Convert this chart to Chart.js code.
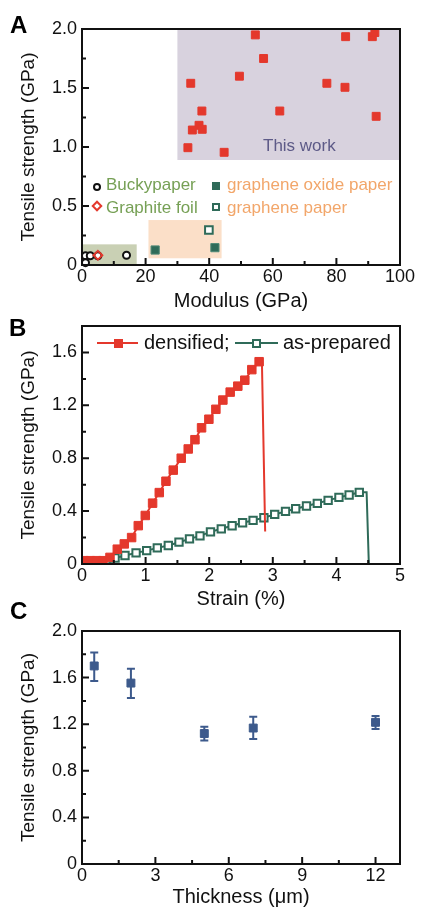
<!DOCTYPE html>
<html>
<head>
<meta charset="utf-8">
<script src="https://cdn.jsdelivr.net/npm/chart.js@4.4.1/dist/chart.umd.min.js"></script>
<style>
html,body{margin:0;padding:0;background:#fff;}
#wrap{position:relative;width:421px;height:907px;overflow:hidden;font-family:"Liberation Sans",Arial,sans-serif;}
canvas{position:absolute;left:0;}
.t{position:absolute;line-height:1;white-space:nowrap;z-index:5;}
.panel{font-weight:bold;font-size:24px;color:#000;}
.mk{position:absolute;box-sizing:border-box;z-index:5;}
</style>
</head>
<body>
<div id="wrap">
  <canvas id="cA" width="421" height="311" style="top:0px"></canvas>
  <canvas id="cB" width="421" height="298" style="top:311px"></canvas>
  <canvas id="cC" width="421" height="298" style="top:609px"></canvas>

  <div class="t panel" style="left:10px;top:13px;">A</div>
  <div class="t panel" style="left:9px;top:316px;">B</div>
  <div class="t panel" style="left:10px;top:599px;">C</div>

  <!-- Panel A legend -->
  <div class="mk" style="left:93px;top:183px;width:8px;height:8px;border:2px solid #111;border-radius:50%;background:#fff;"></div>
  <div class="t" style="left:106px;top:176px;font-size:17px;color:#76a055;">Buckypaper</div>
  <div class="mk" style="left:93px;top:202px;width:8px;height:8px;border:2px solid #e4382c;background:#fff;transform:rotate(45deg);"></div>
  <div class="t" style="left:106px;top:199px;font-size:17px;color:#76a055;">Graphite foil</div>
  <div class="mk" style="left:212px;top:182px;width:8px;height:8px;background:#2f6b59;"></div>
  <div class="t" style="left:227px;top:176px;font-size:17px;color:#f2a66a;">graphene oxide paper</div>
  <div class="mk" style="left:212px;top:203px;width:8px;height:8px;border:2px solid #2f6b59;background:#fff;"></div>
  <div class="t" style="left:227px;top:199px;font-size:17px;color:#f2a66a;">graphene paper</div>
  <div class="t" style="left:263px;top:137px;font-size:17px;color:#5d5a87;">This work</div>

  <!-- Panel B legend -->
  <div class="mk" style="left:97px;top:342px;width:41px;height:2px;background:#e4382c;"></div>
  <div class="mk" style="left:114px;top:339px;width:9px;height:9px;background:#e4382c;"></div>
  <div class="t" style="left:144px;top:332px;font-size:20px;color:#111;">densified;</div>
  <div class="mk" style="left:235px;top:342px;width:43px;height:2px;background:#2f6b59;"></div>
  <div class="mk" style="left:252px;top:339px;width:9px;height:9px;border:2px solid #2f6b59;background:#fff;"></div>
  <div class="t" style="left:283px;top:332px;font-size:20px;color:#111;">as-prepared</div>
</div>

<script>
// ---------- Panel A data ----------
const aThisWorkModulus  = [54.5, 82.9, 91.3, 92.1, 57.1, 49.5, 34.2, 77.0, 82.7, 37.7, 62.2, 92.5, 36.8, 34.7, 37.8, 33.3, 44.7];
const aThisWorkStrength = [1.95, 1.935, 1.935, 1.97, 1.75, 1.60, 1.54, 1.54, 1.506, 1.305, 1.305, 1.26, 1.184, 1.144, 1.15, 0.994, 0.955];
const aBuckyModulus   = [1.1, 2.6, 5.0, 14.0, 1.1];
const aBuckyStrength  = [0.078, 0.078, 0.078, 0.083, 0.02];
const aGraphiteModulus  = [5.0];
const aGraphiteStrength = [0.083];
const aGOModulus   = [23.0, 41.8];
const aGOStrength  = [0.127, 0.147];
const aGPModulus   = [39.9];
const aGPStrength  = [0.297];
const aRegionThisWorkX = [30, 100];
const aRegionThisWorkY = [0.89, 2.0];
const aRegionBuckyX = [0, 17.2];
const aRegionBuckyY = [0, 0.175];
const aRegionGrapheneX = [20.9, 43.9];
const aRegionGrapheneY = [0.057, 0.381];
const aXTickValues = [0, 20, 40, 60, 80, 100];
const aXTickLabels = ['0', '20', '40', '60', '80', '100'];
const aXMinor = [10, 30, 50, 70, 90];
const aYTickValues = [0, 0.5, 1.0, 1.5, 2.0];
const aYTickLabels = ['0', '0.5', '1.0', '1.5', '2.0'];
const aYMinor = [0.25, 0.75, 1.25, 1.75];

// ---------- Panel B data ----------
const bDensifiedStrain = [0.03, 0.13, 0.23, 0.33, 0.44, 0.555, 0.665, 0.78, 0.885, 0.995, 1.11, 1.215, 1.32, 1.435, 1.56, 1.67, 1.776, 1.88, 1.995, 2.105, 2.215, 2.33, 2.45, 2.56, 2.67, 2.785];
const bDensifiedStress = [0.025, 0.025, 0.025, 0.025, 0.05, 0.112, 0.152, 0.20, 0.29, 0.367, 0.46, 0.54, 0.626, 0.71, 0.80, 0.87, 0.94, 1.03, 1.095, 1.17, 1.24, 1.30, 1.345, 1.39, 1.47, 1.53];
const bDensifiedBreakStrain = [2.83, 2.88];
const bDensifiedBreakStress = [1.50, 0.245];
const bPreparedStartStrain = [0.41];
const bPreparedStartStress = [0];
const bPreparedStrain = [0.52, 0.676, 0.85, 1.017, 1.184, 1.357, 1.525, 1.69, 1.855, 2.02, 2.19, 2.36, 2.525, 2.69, 2.86, 3.03, 3.2, 3.36, 3.53, 3.70, 3.87, 4.04, 4.20, 4.36];
const bPreparedStress = [0.045, 0.064, 0.084, 0.101, 0.122, 0.14, 0.165, 0.19, 0.213, 0.243, 0.266, 0.289, 0.312, 0.33, 0.35, 0.375, 0.398, 0.418, 0.439, 0.459, 0.481, 0.504, 0.522, 0.542];
const bPreparedBreakStrain = [4.475, 4.51];
const bPreparedBreakStress = [0.542, 0];
const bXTickValues = [0, 1, 2, 3, 4, 5];
const bXTickLabels = ['0', '1', '2', '3', '4', '5'];
const bXMinor = [0.5, 1.5, 2.5, 3.5, 4.5];
const bYTickValues = [0, 0.4, 0.8, 1.2, 1.6];
const bYTickLabels = ['0', '0.4', '0.8', '1.2', '1.6'];
const bYMinor = [0.2, 0.6, 1.0, 1.4];

// ---------- Panel C data ----------
const cThickness = [0.5, 2, 5, 7, 12];
const cStrength  = [1.70, 1.553, 1.12, 1.167, 1.216];
const cErrLow    = [1.57, 1.425, 1.06, 1.073, 1.159];
const cErrHigh   = [1.816, 1.676, 1.178, 1.264, 1.27];
const cXTickValues = [0, 3, 6, 9, 12];
const cXTickLabels = ['0', '3', '6', '9', '12'];
const cXMinor = [1.5, 4.5, 7.5, 10.5];
const cYTickValues = [0, 0.4, 0.8, 1.2, 1.6, 2.0];
const cYTickLabels = ['0', '0.4', '0.8', '1.2', '1.6', '2.0'];
const cYMinor = [0.2, 0.6, 1.0, 1.4, 1.8];

// ---------- helpers ----------
const RED = '#e4382c', DGREEN = '#2f6b59', BLUE = '#3d5a8c';
const FONT = "'Liberation Sans', Arial, sans-serif";
const pts = (xs, ys, m) => xs.map((x, i) => ({x: x, y: ys[i], m: m}));

const framePlugin = {
  id: 'frame',
  afterDraw(chart, args, o) {
    const {ctx, chartArea: {left, right, top, bottom}, scales: {x, y}} = chart;
    ctx.save();
    ctx.strokeStyle = '#111';
    ctx.lineWidth = 2;
    ctx.beginPath();
    const tick = (v, len, horiz) => {
      if (horiz) { const p = x.getPixelForValue(v); ctx.moveTo(p, bottom); ctx.lineTo(p, bottom - len); }
      else { const p = y.getPixelForValue(v); ctx.moveTo(left, p); ctx.lineTo(left + len, p); }
    };
    o.xMajor.forEach(v => tick(v, 7, true));
    o.xMinor.forEach(v => tick(v, 4, true));
    o.yMajor.forEach(v => tick(v, 7, false));
    o.yMinor.forEach(v => tick(v, 4, false));
    ctx.stroke();
    ctx.strokeRect(left, top, right - left, bottom - top);
    ctx.restore();
  }
};

const regionPlugin = {
  id: 'regions',
  beforeDatasetsDraw(chart, args, o) {
    if (!o.items) return;
    const {ctx, scales: {x, y}} = chart;
    ctx.save();
    o.items.forEach(r => {
      const x0 = x.getPixelForValue(r.x[0]), x1 = x.getPixelForValue(r.x[1]);
      const y0 = y.getPixelForValue(r.y[0]), y1 = y.getPixelForValue(r.y[1]);
      ctx.fillStyle = r.color;
      ctx.fillRect(x0, y1, x1 - x0, y0 - y1);
    });
    ctx.restore();
  }
};

const errorPlugin = {
  id: 'errbars',
  beforeDatasetsDraw(chart, args, o) {
    if (!o.low) return;
    const {ctx, scales: {x, y}} = chart;
    ctx.save();
    ctx.strokeStyle = o.color;
    ctx.lineWidth = 2;
    ctx.beginPath();
    o.xs.forEach((xv, i) => {
      const px = x.getPixelForValue(xv);
      const pl = y.getPixelForValue(o.low[i]), ph = y.getPixelForValue(o.high[i]);
      ctx.moveTo(px, pl); ctx.lineTo(px, ph);
      ctx.moveTo(px - 4, pl); ctx.lineTo(px + 4, pl);
      ctx.moveTo(px - 4, ph); ctx.lineTo(px + 4, ph);
    });
    ctx.stroke();
    ctx.restore();
  }
};

function axisX(min, max, vals, labels, title, h) {
  return {
    type: 'linear', min: min, max: max, position: 'bottom',
    afterBuildTicks: s => { s.ticks = vals.map(v => ({value: v})); },
    afterFit: s => { s.height = h; },
    grid: {display: false, drawTicks: false},
    border: {display: false},
    ticks: {color: '#111', padding: 3, maxRotation: 0, autoSkip: false,
            font: {family: FONT, size: 18, lineHeight: 1},
            callback: (v, i) => labels[i]},
    title: {display: true, text: title, color: '#111', padding: 0,
            font: {family: FONT, size: 20, lineHeight: 1}}
  };
}
function axisY(min, max, vals, labels, title) {
  return {
    type: 'linear', min: min, max: max, position: 'left',
    afterBuildTicks: s => { s.ticks = vals.map(v => ({value: v})); },
    afterFit: s => { s.width = 63; },
    grid: {display: false, drawTicks: false},
    border: {display: false},
    ticks: {color: '#111', padding: 5, autoSkip: false,
            font: {family: FONT, size: 18, lineHeight: 1},
            callback: (v, i) => labels[i]},
    title: {display: true, text: title, color: '#111', padding: 0,
            font: {family: FONT, size: 19, lineHeight: 1}}
  };
}
const baseOpts = (padTop) => ({
  responsive: false, animation: false, devicePixelRatio: 1,
  layout: {padding: {left: 19, right: 21, top: padTop, bottom: 0}},
  plugins: {legend: {display: false}, tooltip: {enabled: false}}
});

// ---------- Chart A ----------
const optA = baseOpts(29);
optA.scales = {
  x: axisX(0, 100, aXTickValues, aXTickLabels, 'Modulus (GPa)', 46),
  y: axisY(0, 2, aYTickValues, aYTickLabels, 'Tensile strength (GPa)')
};
optA.plugins.frame = {xMajor: aXTickValues, xMinor: aXMinor, yMajor: aYTickValues, yMinor: aYMinor};
optA.plugins.regions = {items: [
  {x: aRegionThisWorkX, y: aRegionThisWorkY, color: '#d8d2de'},
  {x: aRegionBuckyX, y: aRegionBuckyY, color: '#c9d0b4'},
  {x: aRegionGrapheneX, y: aRegionGrapheneY, color: '#fbdfc8'}
]};
new Chart(document.getElementById('cA'), {
  type: 'scatter',
  data: {datasets: [
    {label: 'This work', data: pts(aThisWorkModulus, aThisWorkStrength), pointStyle: 'rect', pointRadius: 5.6,
     backgroundColor: RED, borderColor: RED, borderWidth: 1, clip: false},
    {label: 'Graphite foil', data: pts(aGraphiteModulus, aGraphiteStrength), pointStyle: 'rectRot', pointRadius: 4.4,
     backgroundColor: 'rgba(255,255,255,0)', borderColor: RED, borderWidth: 2, clip: false},
    {label: 'Buckypaper', data: pts(aBuckyModulus, aBuckyStrength), pointStyle: 'circle', pointRadius: 3.5,
     backgroundColor: '#fff', borderColor: '#111', borderWidth: 2, clip: false},
    {label: 'graphene oxide paper', data: pts(aGOModulus, aGOStrength), pointStyle: 'rect', pointRadius: 5.8,
     backgroundColor: DGREEN, borderColor: '#4f8a77', borderWidth: 1, clip: false},
    {label: 'graphene paper', data: pts(aGPModulus, aGPStrength), pointStyle: 'rect', pointRadius: 5.4,
     backgroundColor: '#fff', borderColor: DGREEN, borderWidth: 2, clip: false}
  ]},
  options: optA,
  plugins: [regionPlugin, framePlugin]
});

// ---------- Chart B ----------
const optB = baseOpts(15);
optB.scales = {
  x: axisX(0, 5, bXTickValues, bXTickLabels, 'Strain (%)', 45),
  y: axisY(0, 1.8, bYTickValues, bYTickLabels, 'Tensile strength (GPa)')
};
optB.plugins.frame = {xMajor: bXTickValues, xMinor: bXMinor, yMajor: bYTickValues, yMinor: bYMinor};
const markerR = r => c => (c.raw && c.raw.m ? r : 0);
new Chart(document.getElementById('cB'), {
  type: 'scatter',
  data: {datasets: [
    {label: 'densified', showLine: true, tension: 0,
     data: pts(bDensifiedStrain, bDensifiedStress, true).concat(pts(bDensifiedBreakStrain, bDensifiedBreakStress, false)),
     borderColor: RED, backgroundColor: RED, borderWidth: 2,
     pointStyle: 'rect', pointRadius: markerR(6), pointBorderWidth: 1, pointBorderColor: RED, pointBackgroundColor: RED},
    {label: 'as-prepared', showLine: true, tension: 0,
     data: pts(bPreparedStartStrain, bPreparedStartStress, false).concat(pts(bPreparedStrain, bPreparedStress, true), pts(bPreparedBreakStrain, bPreparedBreakStress, false)),
     borderColor: DGREEN, backgroundColor: '#fff', borderWidth: 2,
     pointStyle: 'rect', pointRadius: markerR(5.2), pointBorderWidth: 2, pointBorderColor: DGREEN, pointBackgroundColor: '#fff'}
  ]},
  options: optB,
  plugins: [framePlugin]
});

// ---------- Chart C ----------
const optC = baseOpts(22);
optC.scales = {
  x: axisX(0, 13, cXTickValues, cXTickLabels, 'Thickness (\u03bcm)', 43),
  y: axisY(0, 2, cYTickValues, cYTickLabels, 'Tensile strength (GPa)')
};
optC.plugins.frame = {xMajor: cXTickValues, xMinor: cXMinor, yMajor: cYTickValues, yMinor: cYMinor};
optC.plugins.errbars = {xs: cThickness, low: cErrLow, high: cErrHigh, color: BLUE};
new Chart(document.getElementById('cC'), {
  type: 'scatter',
  data: {datasets: [
    {label: 'Tensile strength', data: pts(cThickness, cStrength), pointStyle: 'rect', pointRadius: 5.6,
     backgroundColor: BLUE, borderColor: BLUE, borderWidth: 1, clip: false}
  ]},
  options: optC,
  plugins: [errorPlugin, framePlugin]
});
</script>
</body>
</html>
